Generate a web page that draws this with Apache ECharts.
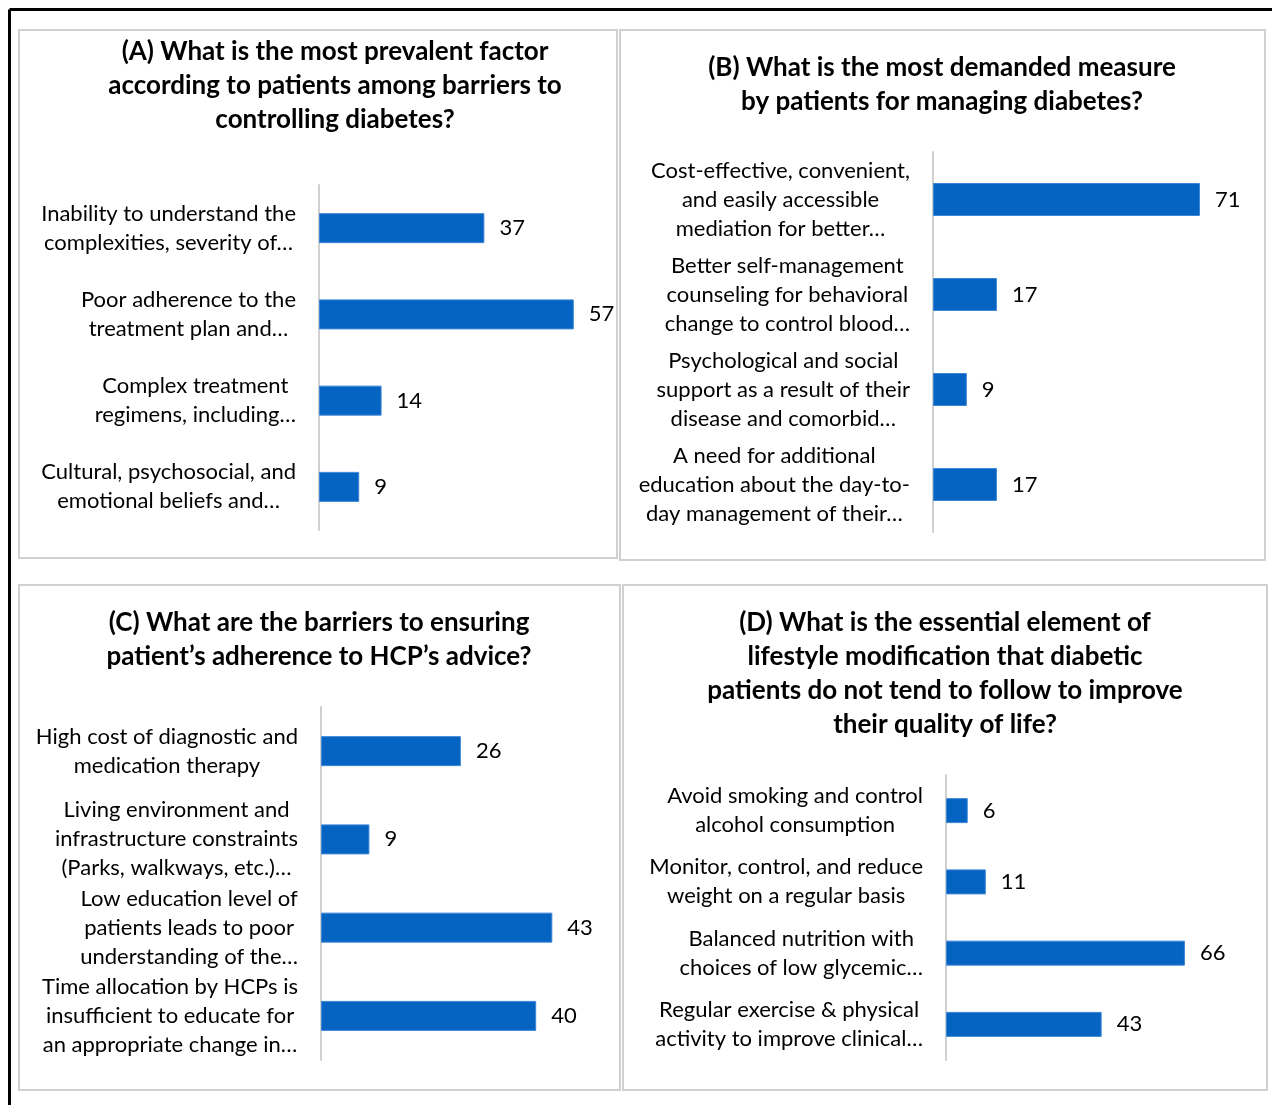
<!DOCTYPE html>
<html><head><meta charset="utf-8">
<script src="https://cdn.jsdelivr.net/npm/echarts@6/dist/echarts.min.js"></script>
<style>html,body{margin:0;padding:0;background:#fff}#c{width:1272px;height:1105px}</style>
</head><body><div id="c"></div>
<script>
// ---- Data ----
const titleA = "(A) What is the most prevalent factor\naccording to patients among barriers to\ncontrolling diabetes?";
const catsA = [
  "Inability to understand the\ncomplexities, severity of…",
  "Poor adherence to the\ntreatment plan and…",
  "Complex treatment\nregimens, including…",
  "Cultural, psychosocial, and\nemotional beliefs and…"
];
const valsA = [37, 57, 14, 9];

const titleB = "(B) What is the most demanded measure\nby patients for managing diabetes?";
const catsB = [
  "Cost-effective, convenient,\nand easily accessible\nmediation for better…",
  "Better self-management\ncounseling for behavioral\nchange to control blood…",
  "Psychological and social\nsupport as a result of their\ndisease and comorbid…",
  "A need for additional\neducation about the day-to-\nday management of their…"
];
const valsB = [71, 17, 9, 17];

const titleC = "(C) What are the barriers to ensuring\npatient’s adherence to HCP’s advice?";
const catsC = [
  "High cost of diagnostic and\nmedication therapy",
  "Living environment and\ninfrastructure constraints\n(Parks, walkways, etc.)…",
  "Low education level of\npatients leads to poor\nunderstanding of the…",
  "Time allocation by HCPs is\ninsufficient to educate for\nan appropriate change in…"
];
const valsC = [26, 9, 43, 40];

const titleD = "(D) What is the essential element of\nlifestyle modification that diabetic\npatients do not tend to follow to improve\ntheir quality of life?";
const catsD = [
  "Avoid smoking and control\nalcohol consumption",
  "Monitor, control, and reduce\nweight on a regular basis",
  "Balanced nutrition with\nchoices of low glycemic…",
  "Regular exercise & physical\nactivity to improve clinical…"
];
const valsD = [6, 11, 66, 43];

// ---- Layout / style ----
const FONT = 'Lato';
const LABEL_SIZE = 22;
const TITLE_SIZE = 26;
const BAR_COLOR = '#0563C1';

const panels = [
  {title: titleA, cats: catsA, vals: valsA, grid: {left: 319, top: 185, width: 268.2, height: 345}, max: 60, barWidth: 30,
   box: [19, 30, 598, 528], titlePos: [335, 35]},
  {title: titleB, cats: catsB, vals: valsB, grid: {left: 933, top: 152, width: 300.8, height: 380}, max: 80, barWidth: 33,
   box: [620, 30, 645, 530], titlePos: [942, 51]},
  {title: titleC, cats: catsC, vals: valsC, grid: {left: 321, top: 707, width: 269, height: 353}, max: 50, barWidth: 30,
   box: [19, 585, 601, 505], titlePos: [319, 606]},
  {title: titleD, cats: catsD, vals: valsD, grid: {left: 946, top: 775, width: 253.4, height: 285}, max: 70, barWidth: 25,
   box: [623, 585, 644, 505], titlePos: [945, 606]}
];

const grids = [], xAxes = [], yAxes = [], series = [], graphics = [];

// outer black frame (top and left)
graphics.push({type: 'line', shape: {x1: 9.5, y1: 9.5, x2: 1272, y2: 9.5}, style: {stroke: '#000', lineWidth: 3}, silent: true});
graphics.push({type: 'line', shape: {x1: 9.5, y1: 9.5, x2: 9.5, y2: 1105}, style: {stroke: '#000', lineWidth: 3}, silent: true});

panels.forEach((p, i) => {
  grids.push(Object.assign({outerBoundsMode: 'none', containLabel: false}, p.grid));
  xAxes.push({type: 'value', gridIndex: i, min: 0, max: p.max, show: false, splitLine: {show: false}});
  yAxes.push({
    type: 'category', gridIndex: i, inverse: true, data: p.cats,
    axisLine: {show: true, lineStyle: {color: '#d0d0d0', width: 2}},
    axisTick: {show: false},
    splitLine: {show: false},
    axisLabel: {
      margin: 23,
      formatter: v => v.split('\n').map(l => '{c|' + l + '}').join('\n'),
      rich: {c: {align: 'center', fontSize: LABEL_SIZE, lineHeight: 29, fontFamily: FONT, color: '#000'}}
    }
  });
  series.push({
    type: 'bar', xAxisIndex: i, yAxisIndex: i, data: p.vals, barWidth: p.barWidth,
    itemStyle: {color: BAR_COLOR, borderColor: '#3C86D6', borderWidth: 1},
    label: {show: true, position: 'right', distance: 15, fontSize: LABEL_SIZE, fontFamily: FONT, color: '#000'},
    silent: true
  });
  graphics.push({type: 'rect', shape: {x: p.box[0], y: p.box[1], width: p.box[2], height: p.box[3]},
    style: {fill: 'none', stroke: '#d0d0d0', lineWidth: 2}, silent: true});
  graphics.push({type: 'text', x: p.titlePos[0], y: p.titlePos[1],
    style: {text: p.title, align: 'center', verticalAlign: 'top', fontSize: TITLE_SIZE, fontWeight: 'bold',
      fontFamily: FONT, lineHeight: 34, fill: '#000'}, silent: true});
});

const chart = echarts.init(document.getElementById('c'), null, {renderer: 'canvas'});
chart.setOption({
  animation: false,
  backgroundColor: '#fff',
  textStyle: {fontFamily: FONT},
  grid: grids, xAxis: xAxes, yAxis: yAxes, series: series,
  graphic: graphics
});
</script></body></html>
